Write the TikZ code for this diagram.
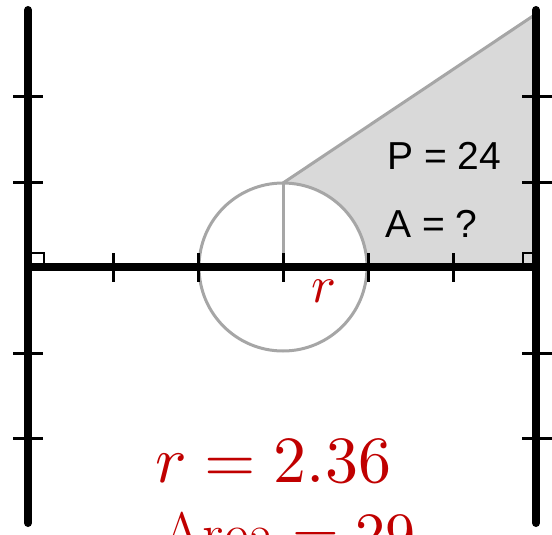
\documentclass[tikz,border=0pt]{standalone}
\usepackage{fontspec}
\usepackage{unicode-math}
\setmathfont{Latin Modern Math}
\newfontfamily\labelfont{Liberation Sans}
\definecolor{darkred}{HTML}{C00000}
\definecolor{shadefill}{HTML}{D9D9D9}
\definecolor{circgray}{HTML}{A6A6A6}
\begin{document}
\begin{tikzpicture}[x=1pt,y=-1pt,
  axisline/.style={line width=8pt,black},
  tickline/.style={line width=3pt,black},
  grayline/.style={line width=3pt,circgray},
  rightmark/.style={line width=2pt,black},
  blacklabel/.style={anchor=base west,inner sep=0pt,font=\labelfont\fontsize{39}{44}\selectfont},
  redlabel/.style={anchor=base west,inner sep=0pt,text=darkred}]
\useasboundingbox (0,0) rectangle (552,535);
\clip (0,0) rectangle (552,535);
% shaded region
\fill[shadefill] (283,183) -- (536,14) -- (536,267) -- (283,267) -- cycle;
\fill[white] (283,267) circle[radius=84];
\draw[grayline] (283,183) -- (536,14);
\draw[grayline] (283,267) circle[radius=84];
\draw[grayline] (283,183) -- (283,267);
% axes
\draw[axisline,line cap=round] (28,10) -- (28,523);
\draw[axisline,line cap=round] (536,10) -- (536,523);
\draw[axisline] (28,267) -- (536,267);
% ticks
\foreach \x in {113,198,283,368,453} \draw[tickline] (\x,253) -- (\x,282);
\foreach \y in {97,182,353,438} {
  \draw[tickline] (13,\y) -- (43,\y);
  \draw[tickline] (522,\y) -- (552,\y);
}
% right angle marks
\draw[rightmark] (32,253) -- (44,253) -- (44,263);
\draw[rightmark] (523,263) -- (523,253) -- (532,253);
% labels
\node[blacklabel] (p) at (387,169) {P = 24};
\node[blacklabel] (a) at (385,237) {A = ?};
\node[redlabel,font=\fontsize{52}{56}\selectfont] (rsmall) at (311,302) {$r$};
\node[redlabel,font=\fontsize{66}{70}\selectfont] (rval) at (155,482) {$r=2.36$};
\node[redlabel,font=\fontsize{60}{64}\selectfont] (area) at (161,554) {$\mathrm{Area}=29$};
\end{tikzpicture}
\end{document}
